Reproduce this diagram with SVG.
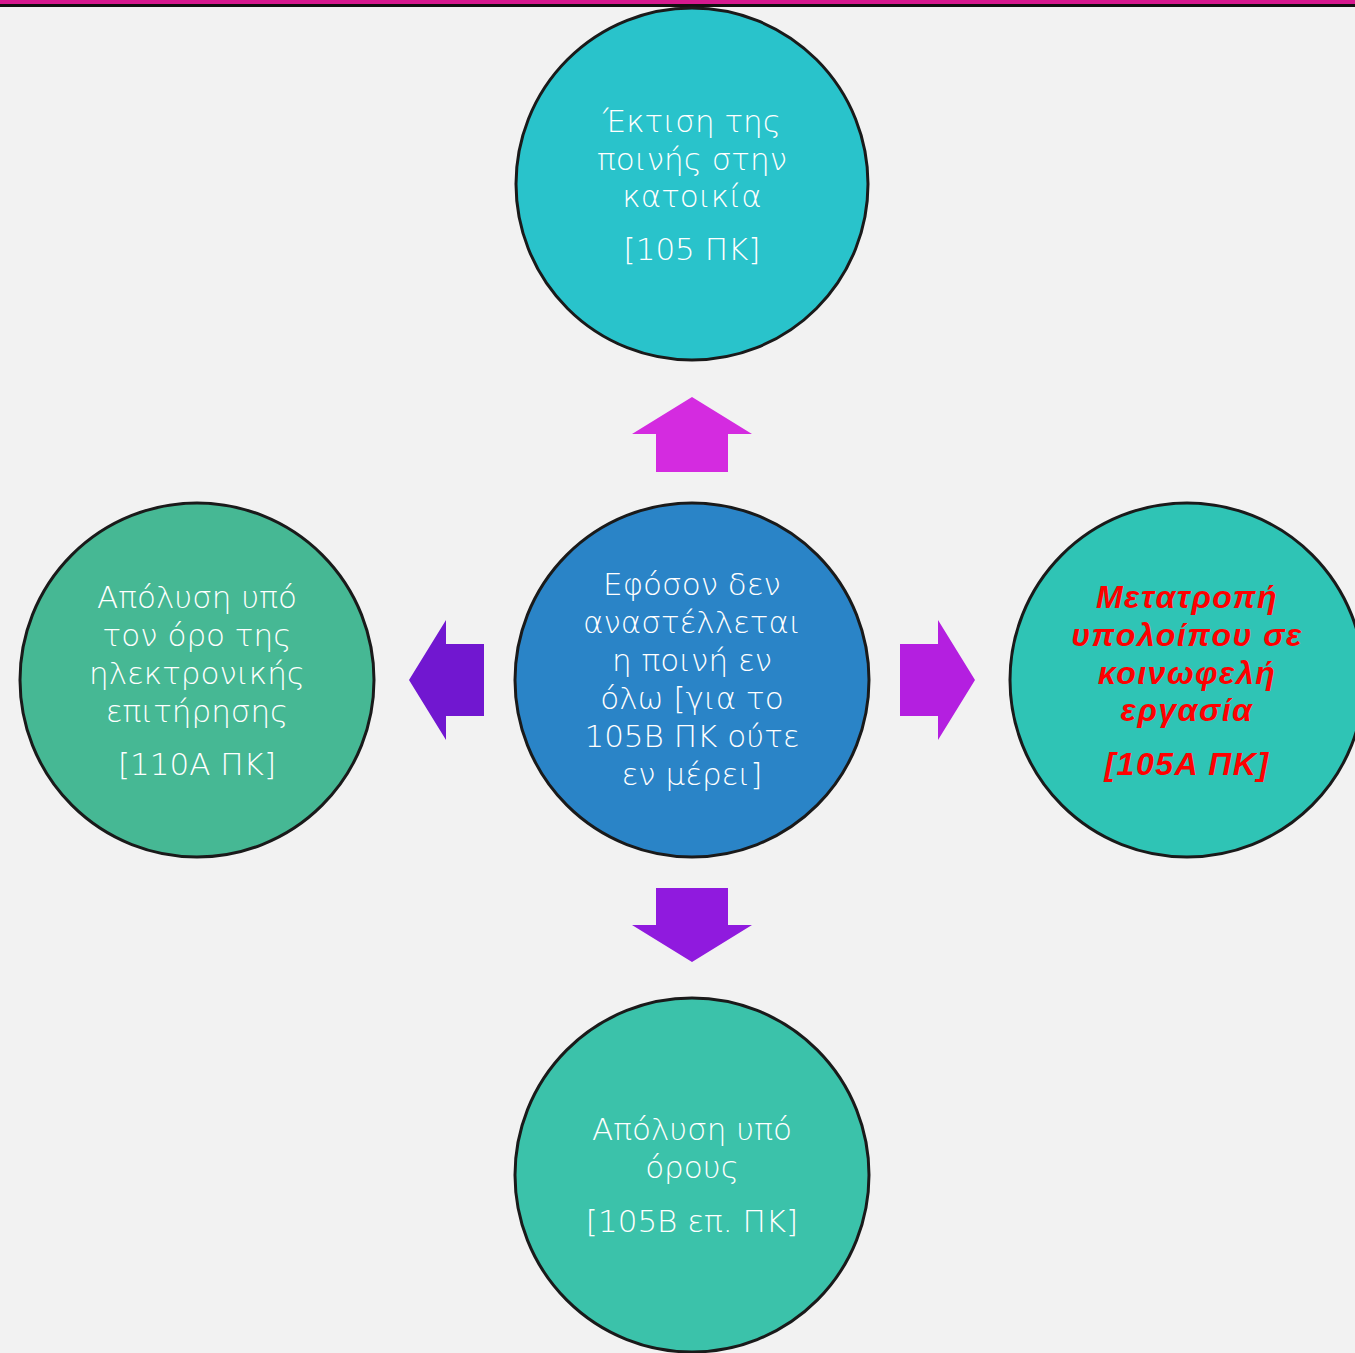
<svg xmlns="http://www.w3.org/2000/svg" width="1355" height="1353" viewBox="0 0 1355 1353">
<style>
.c{stroke:#1a1a1a;stroke-width:3}
.t{font-family:"DejaVu Sans","Noto Sans",sans-serif;font-size:31px;fill:#ffffff;text-anchor:middle;font-weight:300}
.r{font-family:"Liberation Sans","Noto Sans",sans-serif;font-size:32px;letter-spacing:1.5px;fill:#ff0000;text-anchor:middle;font-weight:bold;font-style:italic}
</style>
<rect width="1355" height="1353" fill="#f2f2f2"/>
<rect width="1355" height="4" fill="#d6198f"/>
<rect y="4" width="1355" height="3" fill="#111"/>
<g id="connectors">
<polygon points="692,397 752,434 728,434 728,472 656,472 656,434 632,434" fill="#d42be0"/>
<polygon points="409,680 446,620 446,644 484,644 484,716 446,716 446,740" fill="#7117d0"/>
<polygon points="975,680 938,620 938,644 900,644 900,716 938,716 938,740" fill="#b41fe0"/>
<polygon points="692,962 752,925 728,925 728,888 656,888 656,925 632,925" fill="#901ade"/>
</g>
<g id="top">
<circle class="c" cx="692" cy="184" r="176" fill="#29c3cb"/>
<text class="t" x="692" y="132">Έκτιση της</text>
<text class="t" x="692" y="170">ποινής στην</text>
<text class="t" x="692" y="207">κατοικία</text>
<text class="t" x="692" y="260">[105 ΠΚ]</text>
</g>
<g id="center">
<circle class="c" cx="692" cy="680" r="177" fill="#2a84c7"/>
<text class="t" x="692" y="595">Εφόσον δεν</text>
<text class="t" x="692" y="633">αναστέλλεται</text>
<text class="t" x="692" y="671">η ποινή εν</text>
<text class="t" x="692" y="709">όλω [για το</text>
<text class="t" x="692" y="747">105Β ΠΚ ούτε</text>
<text class="t" x="692" y="785">εν μέρει]</text>
</g>
<g id="left">
<circle class="c" cx="197" cy="680" r="177" fill="#46b894"/>
<text class="t" x="197" y="608">Απόλυση υπό</text>
<text class="t" x="197" y="646">τον όρο της</text>
<text class="t" x="197" y="684">ηλεκτρονικής</text>
<text class="t" x="197" y="722">επιτήρησης</text>
<text class="t" x="197" y="775">[110Α ΠΚ]</text>
</g>
<g id="right">
<circle class="c" cx="1187" cy="680" r="177" fill="#2fc4b5"/>
<text class="r" x="1187" y="608">Μετατροπή</text>
<text class="r" x="1187" y="646">υπολοίπου σε</text>
<text class="r" x="1187" y="684">κοινωφελή</text>
<text class="r" x="1187" y="721">εργασία</text>
<text class="r" x="1187" y="775">[105Α ΠΚ]</text>
</g>
<g id="bottom">
<circle class="c" cx="692" cy="1175" r="177" fill="#3bc2aa"/>
<text class="t" x="692" y="1140">Απόλυση υπό</text>
<text class="t" x="692" y="1178">όρους</text>
<text class="t" x="692" y="1232">[105Β επ. ΠΚ]</text>
</g>
</svg>
